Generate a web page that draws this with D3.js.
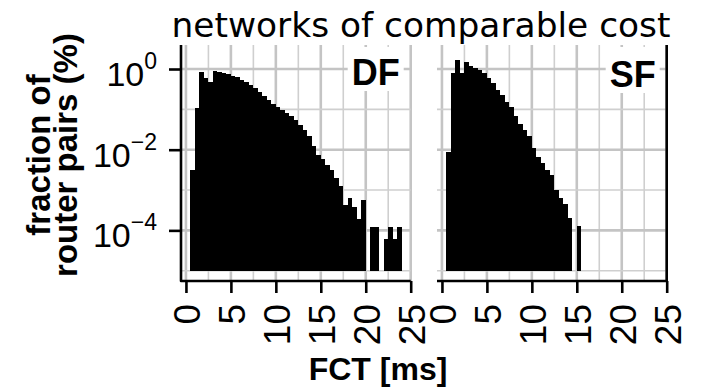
<!DOCTYPE html>
<html>
<head>
<meta charset="utf-8">
<script src="https://cdn.jsdelivr.net/npm/d3@7"></script>
<style>
  body { margin: 0; background: #fff; }
  svg { display: block; }
</style>
</head>
<body>
<svg id="chart" width="705" height="389"></svg>
<script>
// Flow completion time histograms (0.5 ms bins), fraction of router pairs in %
const binWidth = 0.5;

const dfBinStart = [0.5, 1.0, 1.5, 2.0, 2.5, 3.0, 3.5, 4.0, 4.5, 5.0, 5.5, 6.0, 6.5, 7.0, 7.5,
  8.0, 8.5, 9.0, 9.5, 10.0, 10.5, 11.0, 11.5, 12.0, 12.5, 13.0, 13.5, 14.0, 14.5, 15.0, 15.5,
  16.0, 16.5, 17.0, 17.5, 18.0, 18.5, 19.0, 19.5, 20.5, 21.0, 22.0, 22.5, 23.0, 23.5];
const dfFraction = [0.0032, 0.106, 0.83, 0.59, 0.485, 0.89, 0.83, 0.78, 0.75, 0.68, 0.62, 0.53, 0.47, 0.40, 0.33,
  0.265, 0.215, 0.171, 0.138, 0.115, 0.0966, 0.0815, 0.0687, 0.0531, 0.0411, 0.0309, 0.0220, 0.0124, 0.0074, 0.0059, 0.0042,
  0.0032, 0.0020, 0.00127, 0.00043, 0.00064, 0.00038, 0.00019, 0.00057, 0.000123, 0.000123, 0.000062, 0.000123, 0.000062, 0.000123];

const sfBinStart = [0.5, 1.0, 1.5, 2.0, 2.5, 3.0, 3.5, 4.0, 4.5, 5.0, 5.5, 6.0, 6.5, 7.0, 7.5,
  8.0, 8.5, 9.0, 9.5, 10.0, 10.5, 11.0, 11.5, 12.0, 12.5, 13.0, 13.5, 14.0, 15.0];
const sfFraction = [0.0086, 0.78, 1.67, 0.80, 1.45, 1.21, 1.08, 0.94, 0.78, 0.59, 0.443, 0.302, 0.227, 0.155, 0.117,
  0.0687, 0.0435, 0.0309, 0.0220, 0.0109, 0.00675, 0.00463, 0.00307, 0.00238, 0.00101, 0.00062, 0.000455, 0.000199, 0.000125];

const xTicks = [0, 5, 10, 15, 20, 25];
const yTickExponents = [0, -2, -4];
const panelLabels = ["DF", "SF"];
const titleText = "networks of comparable cost";
const xTitle = "FCT [ms]";
const yTitleLines = ["fraction of", "router pairs (%)"];

const svg = d3.select("#chart");
const sans = "'Liberation Sans', Arial, Helvetica, sans-serif";
const panelTop = 45, panelBottom = 281;
const gridMajor = { stroke: "#c4c4c4", width: 2.6 };
const gridMinor = { stroke: "#cfcfcf", width: 1.6 };

svg.append("rect").attr("width", 705).attr("height", 389).attr("fill", "#fff");

const y = d3.scaleLog()
  .domain([Math.pow(10, -5.255), Math.pow(10, 0.595)])
  .range([panelBottom, panelTop]);
const barBase = 1e-5;

const panels = [
  { label: panelLabels[0], left: 181, right: 410.7, starts: dfBinStart, values: dfFraction, labelY: 85, side: "left" },
  { label: panelLabels[1], left: 437, right: 666.7, starts: sfBinStart, values: sfFraction, labelY: 87, side: "right" }
];

panels.forEach(p => {
  const x = d3.scaleLinear().domain([-0.55, 25]).range([p.left, p.right]);
  const g = svg.append("g");

  // grid: every 2.5 ms vertically, every decade horizontally
  const vGrid = d3.range(0, 25.001, 2.5);
  g.append("g").selectAll("line").data(vGrid).join("line")
    .attr("x1", d => x(d)).attr("x2", d => x(d))
    .attr("y1", panelTop).attr("y2", panelBottom)
    .attr("stroke", d => d % 5 === 0 ? gridMajor.stroke : gridMinor.stroke)
    .attr("stroke-width", d => d % 5 === 0 ? gridMajor.width : gridMinor.width);
  const hGrid = d3.range(-5, 1).map(e => Math.pow(10, e));
  g.append("g").selectAll("line").data(hGrid).join("line")
    .attr("x1", p.left).attr("x2", p.right)
    .attr("y1", d => y(d)).attr("y2", d => y(d))
    .attr("stroke", d => Math.round(Math.log10(d)) % 2 === 0 ? gridMajor.stroke : gridMinor.stroke)
    .attr("stroke-width", d => Math.round(Math.log10(d)) % 2 === 0 ? gridMajor.width : gridMinor.width);

  // histogram bars
  const bins = p.starts.map((s, i) => ({ start: s, value: p.values[i] }));
  g.append("g").attr("shape-rendering", "crispEdges")
    .selectAll("rect").data(bins).join("rect")
    .attr("x", d => x(d.start))
    .attr("width", d => x(d.start + binWidth) - x(d.start))
    .attr("y", d => y(d.value))
    .attr("height", d => y(barBase) - y(d.value))
    .attr("fill", "#000");

  // label with a white backing box in the upper right corner
  const labBox = g.append("rect").attr("fill", "#fff");
  const lab = g.append("text")
    .attr("x", p.right - 11).attr("y", p.labelY)
    .attr("text-anchor", "end")
    .attr("font-family", sans).attr("font-weight", "bold").attr("font-size", 36)
    .attr("fill", "#000").text(p.label);
  const bb = lab.node().getBBox();
  labBox.attr("x", bb.x - 4).attr("y", panelTop + 2)
    .attr("width", bb.width + 8).attr("height", p.labelY + 6 - panelTop - 2);

  // axis lines
  const spine = p.side === "left"
    ? `M${p.left},${panelTop}V${panelBottom}H${p.right}`
    : `M${p.left},${panelBottom}H${p.right}V${panelTop}`;
  g.append("path").attr("d", spine).attr("fill", "none")
    .attr("stroke", "#000").attr("stroke-width", 2.6).attr("stroke-linejoin", "round");

  // x axis ticks and rotated labels
  const xAxis = d3.axisBottom(x).tickValues(xTicks).tickSize(12).tickSizeOuter(0).tickFormat(d3.format("d"));
  const ax = g.append("g").attr("transform", `translate(0,${panelBottom})`).call(xAxis);
  ax.select(".domain").remove();
  ax.selectAll(".tick line").attr("stroke", "#000").attr("stroke-width", 2.6);
  ax.selectAll(".tick text")
    .attr("transform", "rotate(-90)")
    .attr("text-anchor", "end")
    .attr("x", -23).attr("y", 0).attr("dy", "0.36em")
    .attr("font-family", sans).attr("font-size", 37).attr("fill", "#000");

  // y axis only on the left panel
  if (p.side === "left") {
    const yAxis = d3.axisLeft(y).tickValues(yTickExponents.map(e => Math.pow(10, e)))
      .tickSize(12).tickSizeOuter(0).tickFormat("");
    const ay = g.append("g").attr("transform", `translate(${p.left},0)`).call(yAxis);
    ay.select(".domain").remove();
    ay.selectAll(".tick line").attr("stroke", "#000").attr("stroke-width", 2.6);
    const labels = g.append("g").selectAll("text").data(yTickExponents).join("text")
      .attr("x", 157).attr("y", e => y(Math.pow(10, e)) + 17)
      .attr("text-anchor", "end")
      .attr("font-family", sans).attr("fill", "#000");
    labels.append("tspan").attr("font-size", 34).text("10");
    labels.append("tspan").attr("font-size", 23).attr("dy", -17)
      .text(e => e < 0 ? "\u2212" + Math.abs(e) : String(e));
  }
});

// titles
svg.append("text").attr("x", 421).attr("y", 37).attr("text-anchor", "middle")
  .attr("font-family", "'DejaVu Sans', sans-serif").attr("font-size", 34.4).attr("fill", "#000")
  .text(titleText);

svg.append("text").attr("x", 378).attr("y", 380).attr("text-anchor", "middle")
  .attr("font-family", sans).attr("font-weight", "bold").attr("font-size", 32).attr("fill", "#000")
  .text(xTitle);

yTitleLines.forEach((line, i) => {
  svg.append("text")
    .attr("transform", `translate(${50 + i * 27},155) rotate(-90)`)
    .attr("text-anchor", "middle")
    .attr("font-family", sans).attr("font-weight", "bold").attr("font-size", 33).attr("fill", "#000")
    .text(line);
});
</script>
</body>
</html>
